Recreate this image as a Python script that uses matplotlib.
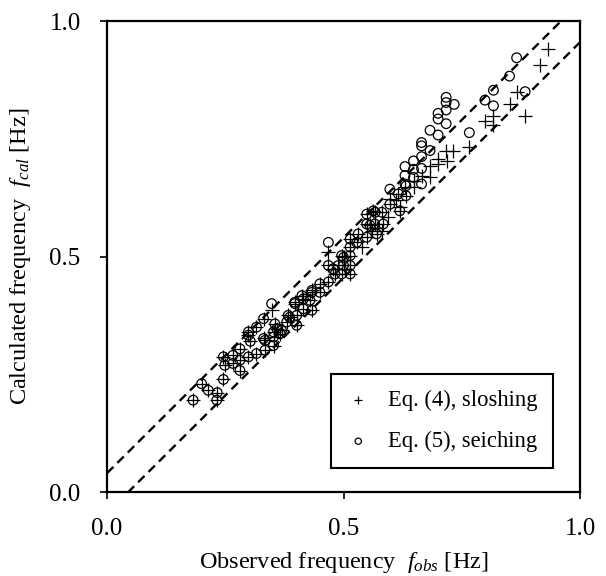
"""Calculated vs observed natural frequency (sloshing / seiching)."""
import numpy as np
import matplotlib
matplotlib.use('Agg')
import matplotlib.pyplot as plt

# points where both equations give (almost) the same value
obs_both = [0.182, 0.200, 0.214, 0.233, 0.232, 0.246, 0.246, 0.249, 0.266, 0.281,
            0.281, 0.281, 0.299, 0.299, 0.316, 0.334, 0.334, 0.352, 0.352, 0.366,
            0.331, 0.316, 0.299, 0.331, 0.355, 0.352, 0.369, 0.383, 0.380, 0.386,
            0.397, 0.401, 0.401, 0.412, 0.415, 0.415, 0.433, 0.429, 0.433, 0.450,
            0.450, 0.468, 0.478, 0.482, 0.468, 0.489, 0.496, 0.496, 0.500, 0.500,
            0.514, 0.514, 0.514, 0.514, 0.514, 0.528, 0.531, 0.549, 0.549, 0.549,
            0.556, 0.563, 0.566, 0.567, 0.570, 0.581, 0.584, 0.598, 0.616, 0.619,
            0.632, 0.359, 0.397, 0.433, 0.303, 0.266]
cal_both = [0.195, 0.230, 0.216, 0.211, 0.195, 0.239, 0.287, 0.269, 0.273, 0.304,
            0.258, 0.280, 0.287, 0.333, 0.294, 0.301, 0.322, 0.329, 0.311, 0.336,
            0.368, 0.350, 0.340, 0.326, 0.357, 0.340, 0.343, 0.375, 0.361, 0.371,
            0.400, 0.375, 0.354, 0.417, 0.389, 0.410, 0.424, 0.407, 0.386, 0.442,
            0.424, 0.446, 0.474, 0.463, 0.481, 0.481, 0.463, 0.502, 0.498, 0.481,
            0.520, 0.502, 0.481, 0.463, 0.537, 0.530, 0.548, 0.541, 0.569, 0.590,
            0.566, 0.597, 0.569, 0.594, 0.548, 0.594, 0.569, 0.611, 0.633, 0.597,
            0.629, 0.347, 0.403, 0.428, 0.320, 0.290]

# sloshing only, Eq. (4)
obs_slosh = [0.348, 0.468, 0.598, 0.595, 0.560, 0.571, 0.582, 0.540, 0.610, 0.620,
             0.630, 0.648, 0.648, 0.665, 0.683, 0.683, 0.700, 0.700, 0.718, 0.717,
             0.732, 0.766, 0.799, 0.817, 0.817, 0.851, 0.866, 0.884, 0.915, 0.933]
cal_slosh = [0.386, 0.509, 0.623, 0.583, 0.555, 0.560, 0.555, 0.520, 0.620, 0.605,
             0.648, 0.648, 0.661, 0.672, 0.668, 0.693, 0.697, 0.707, 0.703, 0.725,
             0.725, 0.732, 0.788, 0.799, 0.780, 0.823, 0.850, 0.799, 0.907, 0.940]

# seiching only, Eq. (5)
obs_seich = [0.348, 0.468, 0.598, 0.632, 0.630, 0.630, 0.630, 0.648, 0.648, 0.648,
             0.665, 0.665, 0.665, 0.665, 0.665, 0.683, 0.683, 0.700, 0.700, 0.700,
             0.717, 0.717, 0.717, 0.717, 0.734, 0.766, 0.799, 0.817, 0.817, 0.851,
             0.866, 0.884]
cal_seich = [0.400, 0.530, 0.643, 0.650, 0.654, 0.672, 0.691, 0.668, 0.685, 0.703,
             0.654, 0.687, 0.712, 0.735, 0.742, 0.725, 0.768, 0.758, 0.792, 0.804,
             0.782, 0.811, 0.827, 0.838, 0.823, 0.763, 0.832, 0.820, 0.853, 0.883,
             0.922, 0.850]

# offsets of the band (dashed lines)
band_upper = 0.04
band_lower = -0.045

plt.rcParams['font.family'] = ['Liberation Serif', 'DejaVu Serif']
plt.rcParams['mathtext.fontset'] = 'custom'
plt.rcParams['mathtext.rm'] = 'Liberation Serif'
plt.rcParams['mathtext.it'] = 'Liberation Serif:italic'

fig = plt.figure(figsize=(6.06, 5.76), dpi=100)
ax = fig.add_axes([0.1766, 0.1458, 0.7805, 0.8177])

kw_plus = dict(marker='+', s=95, linewidths=0.9, color='black')
kw_circ = dict(marker='o', s=48, linewidths=0.9, facecolors='none', edgecolors='black')

ax.scatter(obs_both + obs_slosh, cal_both + cal_slosh, label='Eq. (4), sloshing', **kw_plus)
ax.scatter(obs_both + obs_seich, cal_both + cal_seich, label='Eq. (5), seiching', **kw_circ)

t = np.array([0.0, 1.0])
ax.plot(t, t + band_upper, color='black', lw=1.7, linestyle=(0, (3.8, 2.4)))
ax.plot(t, t + band_lower, color='black', lw=1.7, linestyle=(0, (3.8, 2.4)))

ax.set_xlim(0, 1)
ax.set_ylim(0, 1)
ax.set_xticks([0.0, 0.5, 1.0])
ax.set_yticks([0.0, 0.5, 1.0])
ax.set_xticklabels(['0.0', '0.5', '1.0'])
ax.set_yticklabels(['0.0', '0.5', '1.0'])
ax.tick_params(direction='out', length=5, width=1.2, labelsize=18, pad=14)
for sp in ax.spines.values():
    sp.set_linewidth(1.6)

ax.set_xlabel('Observed frequency  $f_{obs}$ [Hz]', fontsize=17.5, labelpad=7)
ax.set_ylabel('Calculated frequency  $f_{cal}$ [Hz]', fontsize=17.5, labelpad=12)

leg = ax.legend(loc='lower right', bbox_to_anchor=(0.943, 0.051), borderaxespad=0,
                fontsize=16.3, fancybox=False, edgecolor='black', framealpha=1,
                handlelength=1.0, handletextpad=0.8, borderpad=0.7, labelspacing=0.9,
                markerscale=0.65)
leg.get_frame().set_linewidth(1.5)

fig.savefig('out.png', dpi=100)
